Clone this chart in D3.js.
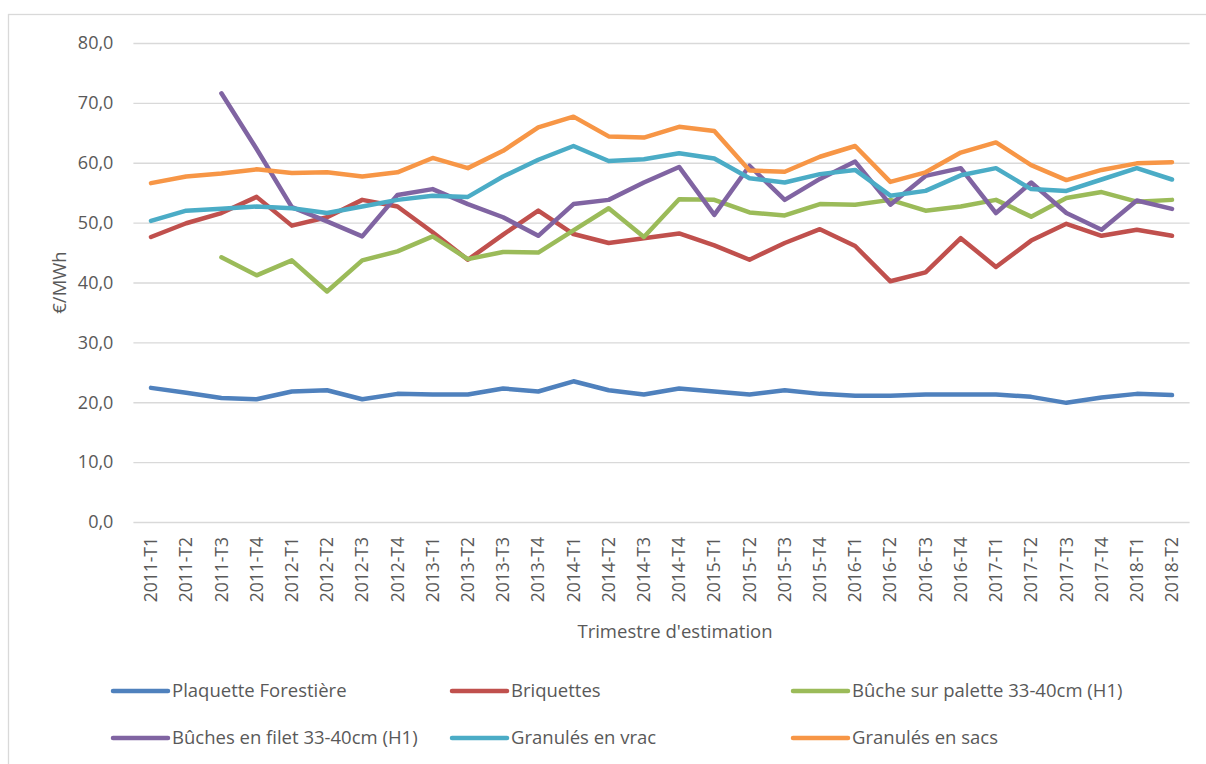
<!DOCTYPE html>
<html>
<head>
<meta charset="utf-8">
<script src="https://cdn.jsdelivr.net/npm/d3@7"></script>
<style>
  body { margin: 0; background: #fff; }
  text { font-family: "Open Sans", sans-serif; fill: #595959; }
</style>
</head>
<body>
<script>
// Chart size
var width = 1206;
var height = 764;

// Quarters (x axis categories)
var quarters = ["2011-T1","2011-T2","2011-T3","2011-T4","2012-T1","2012-T2","2012-T3","2012-T4",
                "2013-T1","2013-T2","2013-T3","2013-T4","2014-T1","2014-T2","2014-T3","2014-T4",
                "2015-T1","2015-T2","2015-T3","2015-T4","2016-T1","2016-T2","2016-T3","2016-T4",
                "2017-T1","2017-T2","2017-T3","2017-T4","2018-T1","2018-T2"];

// Series values (€/MWh), null = no data
var plaquette = [22.4,21.6,20.7,20.5,21.8,22.0,20.5,21.4,21.3,21.3,22.3,21.8,23.5,22.0,21.3,22.3,21.8,21.3,22.0,21.4,
                 21.1,21.1,21.3,21.3,21.3,20.9,19.9,20.8,21.4,21.2];
var briquettes = [47.6,49.9,51.6,54.3,49.5,50.9,53.8,52.7,48.4,43.8,48.0,52.0,48.1,46.6,47.4,48.2,46.2,43.8,46.6,48.9,
                  46.1,40.2,41.7,47.4,42.6,47.0,49.8,47.8,48.8,47.8];
var buchePalette = [null,null,44.2,41.2,43.7,38.5,43.7,45.2,47.7,43.9,45.1,45.0,48.7,52.4,47.6,53.9,53.8,51.7,51.2,53.1,
                    53.0,53.8,52.0,52.7,53.8,51.0,54.1,55.1,53.5,53.8];
var bucheFilet = [null,null,71.6,62.3,52.6,50.2,47.7,54.6,55.6,53.1,50.9,47.8,53.1,53.8,56.7,59.3,51.3,59.5,53.8,57.3,
                  60.2,53.0,57.8,59.1,51.6,56.7,51.6,48.8,53.7,52.3];
var granulesVrac = [50.3,52.0,52.3,52.7,52.4,51.6,52.7,53.8,54.5,54.3,57.7,60.5,62.8,60.3,60.6,61.6,60.7,57.4,56.7,58.1,
                    58.8,54.5,55.3,57.9,59.1,55.6,55.3,57.2,59.1,57.2];
var granulesSacs = [56.6,57.7,58.2,58.9,58.3,58.4,57.7,58.4,60.8,59.1,62.0,65.9,67.7,64.4,64.2,66.0,65.3,58.7,58.5,61.0,
                    62.8,56.8,58.4,61.7,63.4,59.6,57.1,58.8,59.9,60.1];

var seriesNames = ["Plaquette Forestière","Briquettes","Bûche sur palette 33-40cm (H1)",
                   "Bûches en filet 33-40cm (H1)","Granulés en vrac","Granulés en sacs"];
var seriesValues = [plaquette, briquettes, buchePalette, bucheFilet, granulesVrac, granulesSacs];
var colors = ["#4f81bd","#c0504d","#9bbb59","#8064a2","#4bacc6","#f79646"];

var yTicks = [0,10,20,30,40,50,60,70,80];

var margin = {left: 133.4, right: 1189.6, top: 43, bottom: 522};

var svg = d3.select("body").append("svg")
    .attr("width", width)
    .attr("height", height);

// chart border
svg.append("rect")
    .attr("x", 8.5).attr("y", 14.5)
    .attr("width", 1300).attr("height", 900)
    .attr("fill", "none")
    .attr("stroke", "#d9d9d9")
    .attr("stroke-width", 1.3);

var x = d3.scaleBand().domain(quarters).range([margin.left, margin.right]);
var y = d3.scaleLinear().domain([0, 80]).range([margin.bottom, margin.top]);

var fmt = function(d) { return d3.format(".1f")(d).replace(".", ","); };

// gridlines + y labels
var yAxis = svg.append("g")
    .attr("transform", "translate(" + margin.left + ",0)")
    .call(d3.axisLeft(y).tickValues(yTicks).tickFormat(fmt)
        .tickSize(-(margin.right - margin.left)).tickPadding(20));
yAxis.select(".domain").remove();
yAxis.selectAll(".tick line").attr("stroke", "#d9d9d9").attr("stroke-width", 1.3);
yAxis.selectAll(".tick text").style("font-size", "18px").attr("fill", "#595959");

// x labels
var xAxis = svg.append("g")
    .attr("transform", "translate(0," + margin.bottom + ")")
    .call(d3.axisBottom(x).tickSize(0));
xAxis.select(".domain").remove();
xAxis.selectAll(".tick text")
    .style("font-size", "17.5px")
    .attr("fill", "#595959")
    .attr("text-anchor", "end")
    .attr("transform", "rotate(-90)")
    .attr("x", -15)
    .attr("y", 0)
    .attr("dy", "0.35em");

// axis titles
svg.append("text")
    .attr("x", 675)
    .attr("y", 638)
    .attr("text-anchor", "middle")
    .style("font-size", "18.5px")
    .text("Trimestre d'estimation");

svg.append("text")
    .attr("transform", "translate(66," + (margin.top + margin.bottom) / 2 + ") rotate(-90)")
    .attr("text-anchor", "middle")
    .style("font-size", "18.5px")
    .text("€/MWh");

// lines
var line = d3.line()
    .defined(function(d) { return d != null; })
    .x(function(d, i) { return x(quarters[i]) + x.bandwidth() / 2; })
    .y(function(d) { return y(d); });

svg.selectAll("path.series")
    .data(seriesValues)
    .enter()
    .append("path")
    .attr("class", "series")
    .attr("d", line)
    .attr("fill", "none")
    .attr("stroke", function(d, i) { return colors[i]; })
    .attr("stroke-width", 4.5)
    .attr("stroke-linejoin", "round")
    .attr("stroke-linecap", "round");

// legend
var legendX = [113, 452, 793];
var legendY = [691, 738];
var legend = svg.selectAll("g.legend")
    .data(seriesNames)
    .enter()
    .append("g")
    .attr("class", "legend")
    .attr("transform", function(d, i) {
        return "translate(" + legendX[i % 3] + "," + legendY[Math.floor(i / 3)] + ")";
    });
legend.append("line")
    .attr("x1", 0).attr("x2", 55)
    .attr("stroke", function(d, i) { return colors[i]; })
    .attr("stroke-width", 4.5)
    .attr("stroke-linecap", "round");
legend.append("text")
    .attr("x", 59)
    .attr("dy", "0.35em")
    .style("font-size", "18.5px")
    .text(function(d) { return d; });
</script>
</body>
</html>
